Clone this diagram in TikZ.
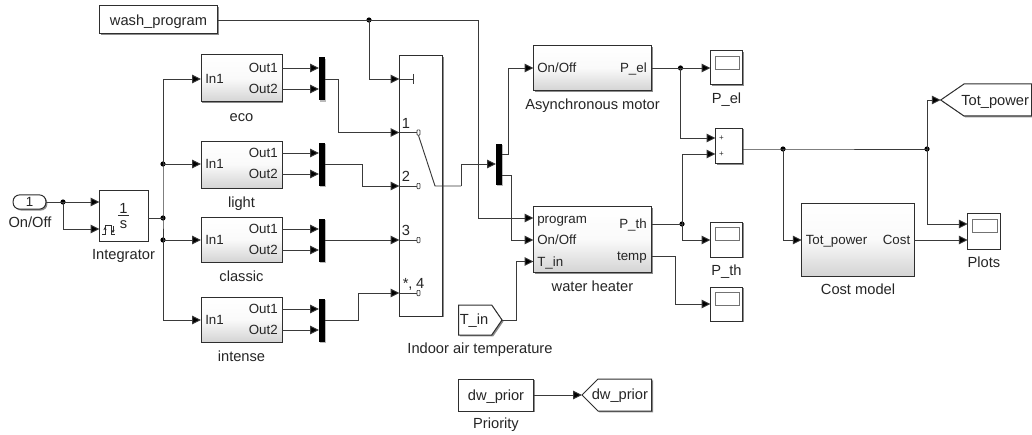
\documentclass[tikz,border=0pt]{standalone}
\usepackage{fontspec}
\setmainfont{Liberation Sans}
\usetikzlibrary{arrows.meta,shadows,shapes.geometric}
\definecolor{ink}{HTML}{2E2E2E}
\definecolor{wirec}{HTML}{3A3A3A}
\tikzset{
  px/.style={x=0.75pt,y=-0.75pt},
  shade1/.style={drop shadow={shadow xshift=1.1pt,shadow yshift=-1.1pt,fill=black!60,opacity=0.75}},
  plainblk/.style={draw=ink,line width=0.75pt,fill=white,shade1,inner sep=0pt,rectangle},
  subblk/.style={draw=ink,line width=0.75pt,top color=white,bottom color=black!17,middle color=black!2,shade1,inner sep=0pt,rectangle},
  muxbar/.style={fill=black,draw=none,inner sep=0pt,rectangle,drop shadow={shadow xshift=0.9pt,shadow yshift=-0.9pt,fill=black!45,opacity=0.6}},
  wire/.style={draw=wirec,line width=0.7pt},
  arr/.style={wire,-{Triangle[length=6.6pt,width=6.4pt,fill=black]}},
  dot/.style={circle,fill=black,draw=none,inner sep=0pt,minimum size=3.9pt},
  lab/.style={inner sep=0pt,font=\fontsize{11}{13}\selectfont,text=ink!80!black,text height=7.9pt,text depth=0pt},
  port/.style={inner sep=0pt,font=\fontsize{10}{12}\selectfont,text=ink!80!black,text height=7.2pt,text depth=0pt},
  bigport/.style={port,font=\fontsize{11}{13}\selectfont,text height=7.9pt},
  plus/.style={inner sep=0pt,font=\fontsize{6}{7}\selectfont,text=ink},
  tagshape/.style={draw=ink,line width=0.75pt,fill=white,shade1},
  swcirc/.style={draw=wirec,line width=0.5pt,fill=white,rectangle,rounded corners=0.5pt,minimum width=2.2pt,minimum height=4pt,inner sep=0pt},
  screen/.style={draw=black!55,line width=0.7pt,fill=white,rectangle,inner sep=0pt}
}
% name, style, x1, y1, x2, y2
\newcommand{\blk}[6]{\node[#2,minimum width={((#5)-(#3))*0.75pt},minimum height={((#6)-(#4))*0.75pt}] (#1) at ({((#3)+(#5))/2},{((#4)+(#6))/2}) {};}
% scope: name, x1, y1, x2, y2
\newcommand{\scopeblk}[5]{\blk{#1}{plainblk}{#2}{#3}{#4}{#5}
  \blk{#1s}{screen}{#2+5}{#3+5.5}{#4-3}{#3+18.5}}
\newcommand{\subrow}[5]{%
  % #1 name, #2 top, #3 bottom, #4 caption, #5 in-port y
  \blk{#1}{subblk}{201}{#2}{282}{#3}
  \node[port,anchor=west] (#1I) at (205,#5) {In1};
  \node[port,anchor=east] (#1Oa) at (278,#5-11) {Out1};
  \node[port,anchor=east] (#1Ob) at (278,#5+10) {Out2};
  \node[lab] (#1L) at (241.5,#3+14) {#4};
  \blk{#1M}{muxbar}{319}{#5-21.5}{325}{#5+21.5}
  \coordinate (#1in) at (201,#5);
  \coordinate (#1a) at (282,#5-11);
  \coordinate (#1b) at (282,#5+10);
  \coordinate (#1ma) at (319,#5-11);
  \coordinate (#1mb) at (319,#5+10);
  \coordinate (#1mo) at (325,#5);
  \draw[arr] (#1a) -- (#1ma);
  \draw[arr] (#1b) -- (#1mb);
}
\begin{document}
\begin{tikzpicture}[px]
\useasboundingbox (0,0) rectangle (1032,435);

% ---------- sources
\blk{wash}{plainblk}{99.5}{6}{217.5}{34}
\node[lab] (washT) at (158.5,20) {wash\_program};
\coordinate (washO) at (217.5,20);

\node[draw=ink,line width=0.75pt,fill=white,shade1,rectangle,rounded corners=4.8pt,minimum width=24.6pt,minimum height=10.6pt,inner sep=0pt] (inp) at (29.5,202) {};
\node[port] (inpT) at (29.5,202) {1};
\node[lab] (inpL) at (30,222) {On/Off};
\coordinate (inpO) at (46,202);

% ---------- integrator
\blk{integ}{plainblk}{99.5}{190.5}{148}{241}
\node[bigport] (integA) at (123.5,208) {1};
\node[bigport] (integB) at (123.5,223) {s};
\draw[line width=0.6pt,draw=ink] (118,215) -- (129,215);
\node[lab] (integL) at (123.5,254) {Integrator};
\coordinate (integIa) at (99.5,202);
\coordinate (integIb) at (99.5,229);
\coordinate (integO) at (148,218);
% reset icon
\draw[line width=0.45pt,draw=ink] (102,234) -- (105,234) -- (105,225) -- (111,225) -- (111,234) -- (115,234);
\draw[line width=0.45pt,draw=ink,-{Stealth[length=2.4pt,width=2.4pt]}] (105,232) -- (105,227);
\draw[line width=0.45pt,draw=ink,-{Stealth[length=2.4pt,width=2.4pt]}] (113,226) -- (113,233);

% ---------- subsystems
\subrow{eco}{55}{102}{eco}{79}
\subrow{light}{141}{188}{light}{164}
\subrow{classic}{217}{262}{classic}{240}
\subrow{intense}{297}{342}{intense}{320}

% ---------- input wiring
\node[dot] (jin) at (63,202) {};
\draw[wire] (inpO) -- (jin.center);
\draw[arr] (jin.center) -- (integIa);
\draw[arr] (jin.center) |- (integIb);
\node[dot] (jA) at (163,164) {};
\node[dot] (jB) at (163,218) {};
\node[dot] (jC) at (163,240) {};
\draw[wire] (integO) -- (jB.center);
\draw[arr] (jA.center) |- (ecoin);
\draw[arr] (jA.center) -- (lightin);
\draw[wire] (jA.center) -- (jB.center) -- (jC.center);
\draw[arr] (jC.center) -- (classicin);
\draw[arr] (jC.center) |- (intensein);

% ---------- multiport switch
\blk{sw}{plainblk}{399.5}{56}{442.5}{316}
\coordinate (swC) at (399.5,79);
\coordinate (sw1) at (399.5,132.5);
\coordinate (sw2) at (399.5,186);
\coordinate (sw3) at (399.5,240);
\coordinate (sw4) at (399.5,293);
\coordinate (swT) at (413,79);
\coordinate (swK) at (435,186);
\coordinate (swO) at (461,186);
\node[swcirc] (c1) at (418.5,132.5) {};
\node[swcirc] (c2) at (418.5,186) {};
\node[swcirc] (c3) at (418.5,240) {};
\node[swcirc] (c4) at (418.5,293) {};
\draw[wire] (swC) -- (swT);
\draw[wire] (413,74) -- (413,84);
\draw[wire] (sw1) -- (c1);
\draw[wire] (sw2) -- (c2);
\draw[wire] (sw3) -- (c3);
\draw[wire] (sw4) -- (c4);
\node[bigport] (t1) at (406,123) {1};
\node[bigport] (t2) at (406,176.5) {2};
\node[bigport] (t3) at (406,230) {3};
\node[bigport,anchor=west] (t4) at (402.5,283.5) {*,\hspace{2.6pt}4};
\draw[wire] (c1.south) -- (swK) -- (swO);

% ---------- mux after the switch
\blk{mx}{muxbar}{496}{144}{502}{185}
\coordinate (mxI) at (496,164);
\coordinate (mxA) at (502,154);
\coordinate (mxB) at (502,175);
\draw[arr] (swO) -- (461,164) -- (mxI);

% ---------- wiring into the switch
\node[dot] (jW) at (369,20) {};
\draw[wire] (washO) -- (jW.center);
\draw[arr] (jW.center) |- (swC);
\draw[arr] (ecomo) -- (338,79) |- (sw1);
\draw[arr] (lightmo) -- (362.5,164) |- (sw2);
\draw[arr] (classicmo) -- (sw3);
\draw[arr] (intensemo) -- (358,320) |- (sw4);

% ---------- motor
\blk{motor}{subblk}{533.5}{45.5}{651.5}{90.5}
\node[port,anchor=west] (motorI) at (537,68) {On/Off};
\node[port,anchor=east] (motorO) at (647,68) {P\_el};
\node[lab] (motorL) at (592.5,104) {Asynchronous motor};
\coordinate (motorIn) at (533.5,68);
\coordinate (motorOut) at (651.5,68);
\draw[arr] (mxA) -- (508,154) |- (motorIn);

% ---------- heater
\blk{heat}{subblk}{533.5}{206.5}{651.5}{272.5}
\node[port,anchor=west] (heatA) at (537,218.5) {program};
\node[port,anchor=west] (heatB) at (537,240) {On/Off};
\node[port,anchor=west] (heatC) at (537,261.5) {T\_in};
\node[port,anchor=east] (heatD) at (647,224) {P\_th};
\node[port,anchor=east] (heatE) at (647,256) {temp};
\node[lab] (heatL) at (592.5,286) {water heater};
\coordinate (heatIa) at (533.5,218);
\coordinate (heatIb) at (533.5,240);
\coordinate (heatIc) at (533.5,261.5);
\coordinate (heatOa) at (651.5,224);
\coordinate (heatOb) at (651.5,256);
\draw[arr] (jW.center) -- (478,20) |- (heatIa);
\draw[arr] (mxB) -- (511,175) |- (heatIb);

% ---------- T_in tag
\draw[tagshape] (458.5,305) -- (491.7,305) -- (502,320) -- (491.7,335) -- (458.5,335) -- cycle;
\node[lab,anchor=west] (tinT) at (459.5,319.5) {T\_in};
\node[lab] (tinL) at (480,348) {Indoor air temperature};
\coordinate (tinO) at (502,320);
\draw[arr] (tinO) -- (516.7,320) |- (heatIc);

% ---------- priority
\blk{prior}{plainblk}{458.5}{379}{533.5}{411}
\node[lab] (priorT) at (496,395) {dw\_prior};
\node[lab] (priorL) at (496,423) {Priority};
\coordinate (priorO) at (533.5,395);
\draw[tagshape] (582,395) -- (598,379) -- (651.7,379) -- (651.7,411) -- (598,411) -- cycle;
\node[lab,anchor=west] (goT) at (591.5,394.5) {dw\_prior};
\coordinate (goI) at (582,395);
\draw[arr] (priorO) -- (goI);

% ---------- scopes
\scopeblk{sEl}{710.5}{50.5}{742.5}{85}
\node[lab] (sElL) at (726.5,98) {P\_el};
\scopeblk{sTh}{710.5}{222}{742.5}{257}
\node[lab] (sThL) at (726.5,270) {P\_th};
\scopeblk{sTm}{710.5}{287}{742.5}{321}
\coordinate (sElI) at (710.5,68);
\coordinate (sThI) at (710.5,240);
\coordinate (sTmI) at (710.5,304);

% ---------- sum
\blk{sum}{plainblk}{715.5}{128}{742.5}{163.5}
\node[plus] (pa) at (721.5,138.5) {+};
\node[plus] (pb) at (721.5,154.5) {+};
\coordinate (sumA) at (715.5,138);
\coordinate (sumB) at (715.5,154);
\coordinate (sumO) at (742.5,149);

\node[dot] (jE) at (680.5,68) {};
\node[dot] (jH) at (682,224) {};
\draw[wire] (motorOut) -- (jE.center);
\draw[arr] (jE.center) -- (sElI);
\draw[arr] (jE.center) |- (sumA);
\draw[wire] (heatOa) -- (jH.center);
\draw[arr] (jH.center) |- (sumB);
\draw[arr] (jH.center) |- (sThI);
\draw[arr] (heatOb) -- (675.7,256) |- (sTmI);

% ---------- cost and totals
\blk{cost}{subblk}{801.7}{203}{914}{276}
\node[port,anchor=west] (costI) at (805.5,240) {Tot\_power};
\node[port,anchor=east] (costO) at (910.5,240) {Cost};
\node[lab] (costL) at (858,289) {Cost model};
\coordinate (costIn) at (801.7,240);
\coordinate (costOut) at (914,240);

\scopeblk{plots}{967.7}{213.7}{1000}{249}
\node[lab] (plotsL) at (984,262) {Plots};
\coordinate (plA) at (967.7,224);
\coordinate (plB) at (967.7,240);

\draw[tagshape] (940.7,100) -- (964,84) -- (1031.5,84) -- (1031.5,116) -- (964,116) -- cycle;
\node[lab,anchor=west] (totT) at (961,100) {Tot\_power};
\coordinate (totI) at (940.7,100);

\node[dot] (jS) at (783,149) {};
\node[dot] (jT) at (927,149) {};
\draw[wire] (sumO) -- (jS.center) -- (jT.center);
\draw[arr] (jS.center) |- (costIn);
\draw[arr] (jT.center) |- (totI);
\draw[arr] (jT.center) |- (plA);
\draw[arr] (costOut) -- (plB);
\end{tikzpicture}
\end{document}
